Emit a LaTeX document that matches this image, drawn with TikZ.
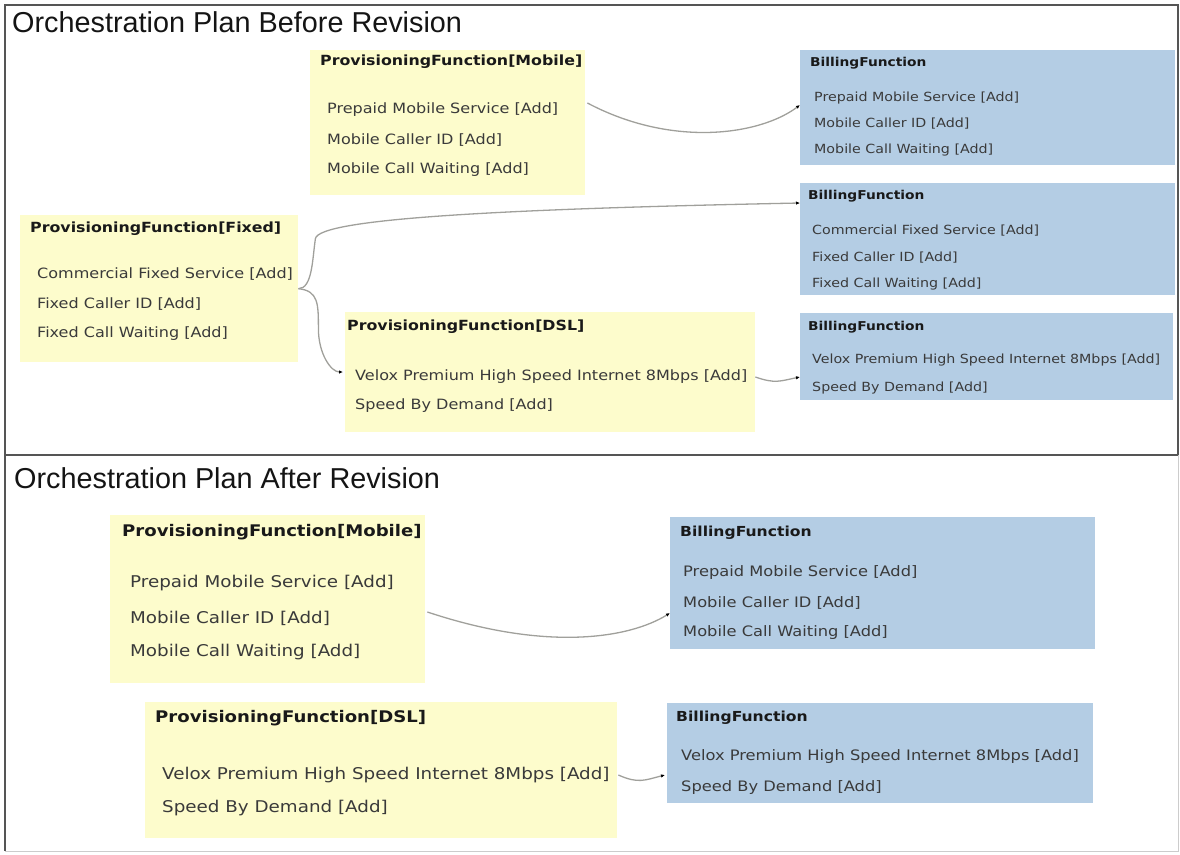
\documentclass[tikz,border=0pt]{standalone}
\usepackage{fontspec}
\usetikzlibrary{arrows.meta}
\newfontfamily\titlefont{Liberation Sans}
\newfontfamily\boxfont[FakeStretch=1.13]{DejaVu Sans}
\definecolor{ylw}{RGB}{253,252,204}
\definecolor{blu}{RGB}{180,205,228}
\definecolor{frm}{RGB}{85,85,85}
\definecolor{itm}{RGB}{58,58,58}
\definecolor{lnk}{RGB}{160,160,155}
\tikzset{
  ybox/.style={fill=ylw, draw=none, inner sep=0pt, anchor=north west},
  bbox/.style={fill=blu, draw=none, inner sep=0pt, anchor=north west},
  htitle/.style={anchor=west, inner sep=0pt, font=\titlefont\fontsize{28.8}{32}\selectfont, text=black!92},
  pts/.style={anchor=west, inner sep=0pt, font=\boxfont\bfseries\fontsize{14}{16}\selectfont, text=black!90},
  pis/.style={anchor=west, inner sep=0pt, font=\boxfont\fontsize{14.2}{16}\selectfont, text=itm},
  bts/.style={anchor=west, inner sep=0pt, font=\boxfont\bfseries\fontsize{12.2}{14}\selectfont, text=black!90},
  bis/.style={anchor=west, inner sep=0pt, font=\boxfont\fontsize{12.6}{15}\selectfont, text=itm},
  ptl/.style={anchor=west, inner sep=0pt, font=\boxfont\bfseries\fontsize{16}{18}\selectfont, text=black!90},
  pil/.style={anchor=west, inner sep=0pt, font=\boxfont\fontsize{16.2}{19}\selectfont, text=itm},
  btl/.style={anchor=west, inner sep=0pt, font=\boxfont\bfseries\fontsize{13.8}{16}\selectfont, text=black!90},
  bil/.style={anchor=west, inner sep=0pt, font=\boxfont\fontsize{14.4}{17}\selectfont, text=itm},
  link/.style={draw=lnk, line width=1.3pt, -{Latex[length=4pt,width=3.5pt,color=black]}}
}
\begin{document}
\begin{tikzpicture}[x=1pt,y=-1pt]
\useasboundingbox (0,0) rectangle (1180,854);
% frames
\draw[frm, line width=2.5pt] (5,5) rectangle (1178,455);
\draw[frm, line width=2.5pt] (5,455) -- (5,851);
\draw[gray!40, line width=1pt] (5,851) -- (1178,851) -- (1178,455);
\node[htitle] (t1) at (12,22) {Orchestration Plan Before Revision};
\node[htitle] (t2) at (14,478) {Orchestration Plan After Revision};

% ---------- before ----------
\node[ybox, minimum width=275pt, minimum height=145pt] (pm) at (310,50) {};
\node[pts] (pmt) at (320,62) {ProvisioningFunction[Mobile]};
\node[pis] (pm1) at (327,110) {Prepaid Mobile Service [Add]};
\node[pis] (pm2) at (327,140) {Mobile Caller ID [Add]};
\node[pis] (pm3) at (327,170) {Mobile Call Waiting [Add]};

\node[bbox, minimum width=375pt, minimum height=115pt] (b1) at (800,50) {};
\node[bts] (b1t) at (810,63) {BillingFunction};
\node[bis] (b11) at (814,98) {Prepaid Mobile Service [Add]};
\node[bis] (b12) at (814,124) {Mobile Caller ID [Add]};
\node[bis] (b13) at (814,150) {Mobile Call Waiting [Add]};

\node[bbox, minimum width=375pt, minimum height=112pt] (b2) at (800,183) {};
\node[bts] (b2t) at (808,196) {BillingFunction};
\node[bis] (b21) at (812,231) {Commercial Fixed Service [Add]};
\node[bis] (b22) at (812,258) {Fixed Caller ID [Add]};
\node[bis] (b23) at (812,284) {Fixed Call Waiting [Add]};

\node[ybox, minimum width=278pt, minimum height=147pt] (pf) at (20,215) {};
\node[pts] (pft) at (30,229) {ProvisioningFunction[Fixed]};
\node[pis] (pf1) at (37,274) {Commercial Fixed Service [Add]};
\node[pis] (pf2) at (37,304) {Fixed Caller ID [Add]};
\node[pis] (pf3) at (37,334) {Fixed Call Waiting [Add]};

\node[ybox, minimum width=410pt, minimum height=120pt] (pd) at (345,312) {};
\node[pts] (pdt) at (347,327) {ProvisioningFunction[DSL]};
\node[pis] (pd1) at (355,377) {Velox Premium High Speed Internet 8Mbps [Add]};
\node[pis] (pd2) at (355,406) {Speed By Demand [Add]};

\node[bbox, minimum width=373pt, minimum height=87pt] (b3) at (800,313) {};
\node[bts] (b3t) at (808,327) {BillingFunction};
\node[bis] (b31) at (812,360) {Velox Premium High Speed Internet 8Mbps [Add]};
\node[bis] (b32) at (812,388) {Speed By Demand [Add]};

\draw[link] ([shift={(2pt,7pt)}]pm.east |- pm1) .. controls +(85,45) and +(-40,30) .. ([yshift=-7pt]b1.west |- b11);
\draw[link] (pf.east) .. controls +(14,0) and +(-3,20) .. +(17,-50) .. controls +(3,-20) and +(-300,6) .. ([yshift=-20pt]b2.north west);
\draw[link] (pf.east) .. controls +(20,2) and +(0,-25) .. +(20,40) .. controls +(0,25) and +(-12,0) .. ([xshift=-2pt,yshift=5pt]pd.west |- pd1);
\draw[link] (pd.east |- pd1) .. controls +(20,7) and +(-20,4) .. (b3.west |- pd1);

% ---------- after ----------
\node[ybox, minimum width=315pt, minimum height=168pt] (am) at (110,515) {};
\node[ptl] (amt) at (122,532) {ProvisioningFunction[Mobile]};
\node[pil] (am1) at (130,583) {Prepaid Mobile Service [Add]};
\node[pil] (am2) at (130,618) {Mobile Caller ID [Add]};
\node[pil] (am3) at (130,652) {Mobile Call Waiting [Add]};

\node[ybox, minimum width=472pt, minimum height=136pt] (ad) at (145,702) {};
\node[ptl] (adt) at (155,718) {ProvisioningFunction[DSL]};
\node[pil] (ad1) at (162,775) {Velox Premium High Speed Internet 8Mbps [Add]};
\node[pil] (ad2) at (162,808) {Speed By Demand [Add]};

\node[bbox, minimum width=425pt, minimum height=132pt] (ab1) at (670,517) {};
\node[btl] (ab1t) at (680,533) {BillingFunction};
\node[bil] (ab11) at (683,573) {Prepaid Mobile Service [Add]};
\node[bil] (ab12) at (683,603) {Mobile Caller ID [Add]};
\node[bil] (ab13) at (683,633) {Mobile Call Waiting [Add]};

\node[bbox, minimum width=426pt, minimum height=100pt] (ab2) at (667,703) {};
\node[btl] (ab2t) at (676,718) {BillingFunction};
\node[bil] (ab21) at (681,757) {Velox Premium High Speed Internet 8Mbps [Add]};
\node[bil] (ab22) at (681,788) {Speed By Demand [Add]};

\draw[link] ([shift={(2pt,6pt)}]am.east |- am2) .. controls +(120,40) and +(-40,25) .. ([yshift=-10pt]ab1.west |- ab12);
\draw[link] ([xshift=1pt]ad.east |- ad1) .. controls +(20,9) and +(-20,5) .. ([xshift=-2pt]ab2.west |- ad1);
\end{tikzpicture}
\end{document}
